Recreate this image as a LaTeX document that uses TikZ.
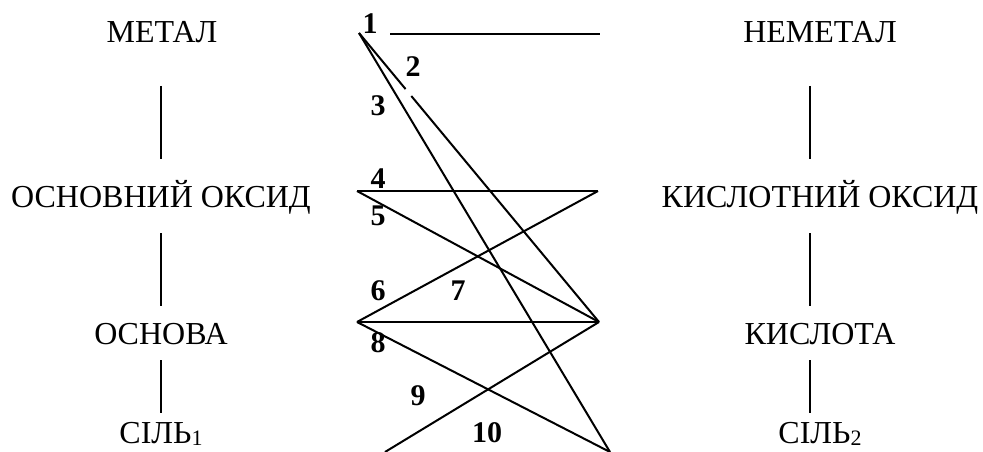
\documentclass[tikz,border=0pt]{standalone}
\usepackage{fontspec}
\setmainfont{Liberation Serif}
\usetikzlibrary{calc}
\newcommand{\lowidx}[1]{\raisebox{-2pt}{\fontsize{22}{22}\selectfont #1}}
\begin{document}
\begin{tikzpicture}[x=1pt,y=-1pt,
  word/.style={anchor=base,inner sep=0pt,font=\fontsize{32}{32}\selectfont},
  num/.style={anchor=base,inner sep=0pt,font=\fontsize{30}{30}\selectfont\bfseries},
  link/.style={line width=2pt}]
\useasboundingbox (0,0) rectangle (983,452);
% left column
\node[word] (metal) at (162,43) {МЕТАЛ};
\node[word] (boxid) at (161,207) {ОСНОВНИЙ ОКСИД};
\node[word] (base) at (161,344) {ОСНОВА};
\node[word] (salt1) at (161,443) {СІЛЬ\lowidx{1}};
% right column
\node[word] (nonmetal) at (820,43) {НЕМЕТАЛ};
\node[word] (aoxid) at (820,207) {КИСЛОТНИЙ ОКСИД};
\node[word] (acid) at (820,344) {КИСЛОТА};
\node[word] (salt2) at (820,443) {СІЛЬ\lowidx{2}};
% vertical connectors
\coordinate (la1) at (161,86);  \coordinate (lb1) at (161,159);
\coordinate (la2) at (161,233); \coordinate (lb2) at (161,306);
\coordinate (la3) at (161,360); \coordinate (lb3) at (161,413);
\coordinate (ra1) at (810,86);  \coordinate (rb1) at (810,159);
\coordinate (ra2) at (810,233); \coordinate (rb2) at (810,306);
\coordinate (ra3) at (810,360); \coordinate (rb3) at (810,413);
\draw[link] (la1) -- (lb1) (la2) -- (lb2) (la3) -- (lb3);
\draw[link] (ra1) -- (rb1) (ra2) -- (rb2) (ra3) -- (rb3);
% middle points
\coordinate (P1) at (359,33);
\coordinate (H1) at (390,34);
\coordinate (H2) at (600,34);
\coordinate (L2) at (357,191);
\coordinate (R2) at (598,191);
\coordinate (L3) at (357,322);
\coordinate (R3) at (599,322);
\coordinate (B1) at (610,452);
\coordinate (B2) at (385,452);
\coordinate (G1) at ($(P1)!0.194!(R3)$);
\coordinate (G2) at ($(P1)!0.218!(R3)$);
% middle connectors
\draw[link] (H1) -- (H2);
\draw[link] (P1) -- (G1);
\draw[link] (G2) -- (R3);
\draw[link] (P1) -- (B1);
\draw[link] (L2) -- (R2);
\draw[link] (L2) -- (R3);
\draw[link] (L3) -- (R2);
\draw[link] (L3) -- (R3);
\draw[link] (L3) -- (B1);
\draw[link] (R3) -- (B2);
% numbers
\node[num] (n1) at (370,34) {1};
\node[num] (n2) at (413,77) {2};
\node[num] (n3) at (378,115) {3};
\node[num] (n4) at (378,188) {4};
\node[num] (n5) at (378,225) {5};
\node[num] (n6) at (378,300) {6};
\node[num] (n7) at (458,300) {7};
\node[num] (n8) at (378,352) {8};
\node[num] (n9) at (418,405) {9};
\node[num] (n10) at (487,442) {10};
\end{tikzpicture}
\end{document}
